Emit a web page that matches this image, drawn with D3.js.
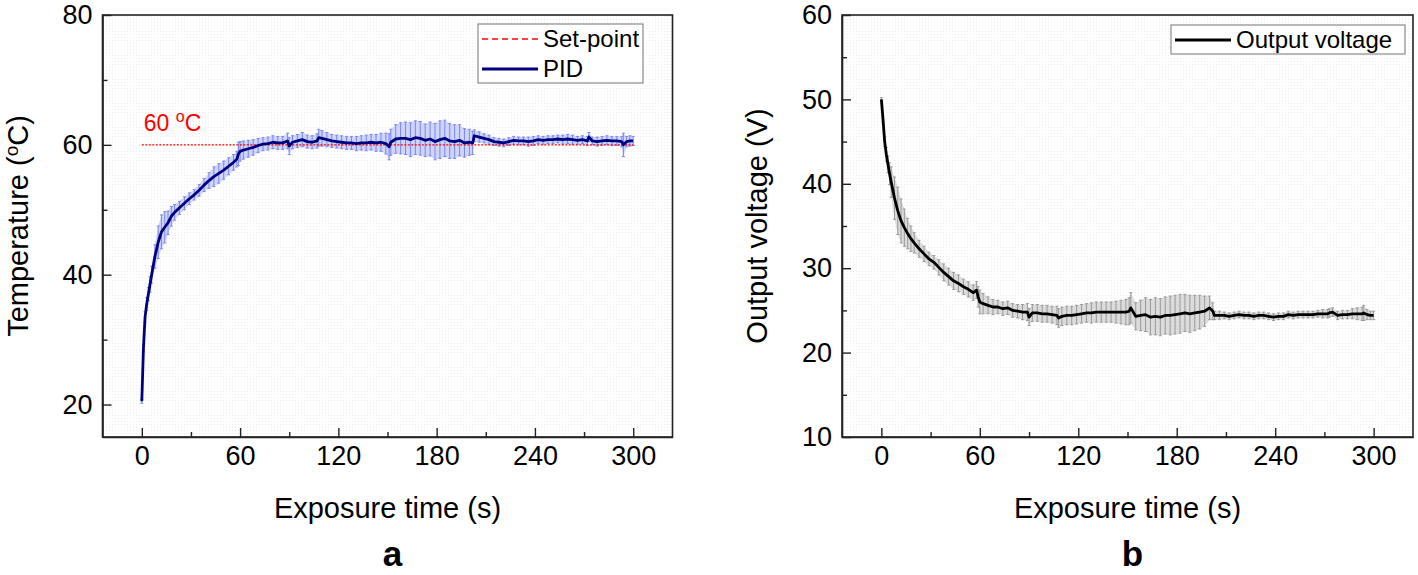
<!DOCTYPE html>
<html>
<head>
<meta charset="utf-8">
<script src="https://cdn.jsdelivr.net/npm/d3@7"></script>
<style>
  html, body { margin: 0; padding: 0; background: #fff; }
  svg { display: block; font-family: "Liberation Sans", Arial, sans-serif; }
</style>
</head>
<body>
<svg id="chart" width="1418" height="575"></svg>
<script>
// ---------------- DATA ----------------
const time = [
  0,1,2,3,4,5,6,8,10,12,
  14,16,18,20,23,26,29,32,35,38,
  41,44,47,50,53,56,58,59,60,62,
  65,68,71,74,77,80,83,86,89,90,
  92,95,98,101,104,107,108,110,113,116,
  119,122,125,128,131,134,137,140,143,146,
  149,151,152,155,158,161,164,167,170,173,
  176,179,182,185,188,191,194,197,200,202,
  203,206,209,212,215,218,221,224,227,230,
  233,236,239,242,245,248,251,254,257,260,
  263,266,269,272,273,275,278,281,284,287,
  290,293,294,296,298,300
];
const temperature = [
  20.5,28.7,33.5,35.5,37,38.5,40,42.8,45,46.6,
  47.3,48,49,49.6,50.3,51,51.7,52.3,53,53.8,
  54.5,55.1,55.6,56.1,56.7,57.3,57.8,58.6,59,59.2,
  59.4,59.6,59.9,60.1,60.2,60.4,60.3,60.3,60.6,59.8,
  60.4,60.6,60.8,60.5,60.4,60.6,61.1,61,60.8,60.6,
  60.5,60.4,60.3,60.3,60.2,60.3,60.3,60.4,60.3,60.4,
  60.2,59.7,60.4,60.9,61,61,60.8,61.1,61,60.7,
  60.9,60.5,60.8,61,60.6,60.5,60.7,60.3,60.4,60.3,
  61.4,61.2,61,60.8,60.5,60.4,60.3,60.5,60.7,60.6,
  60.6,60.5,60.6,60.8,60.7,60.8,60.8,60.9,60.8,60.9,
  60.8,60.7,60.8,60.6,61.2,60.6,60.5,60.6,60.7,60.6,
  60.6,60.5,60.0,60.5,60.6,60.6
];
const temperatureErr = [
  0.3,0.5,0.8,1,1,1.2,1.3,1.8,2.5,2.6,
  2.4,1.8,1.5,1.2,1,1,0.9,0.8,0.9,1,
  1.2,1.5,1.5,1.4,1.3,1.2,1.2,1.8,1.5,1.4,
  1.3,1.2,1.1,1,1,1,1,1,1.2,1.3,
  1,1,1.1,1,1,1.1,1.3,1.2,1.1,1,
  1,1,1,1,1.1,1.1,1.2,1.2,1.3,1.4,
  1.6,2,2,2.2,2.4,2.5,2.6,2.6,2.6,2.5,
  2.6,2.8,2.9,2.8,2.7,2.6,2.4,2.2,2,1.8,
  0.9,0.8,0.7,0.7,0.6,0.6,0.6,0.6,0.6,0.6,
  0.6,0.7,0.7,0.6,0.6,0.6,0.6,0.6,0.7,0.7,
  0.7,0.6,0.6,0.7,0.7,0.6,0.7,0.7,0.7,0.7,
  0.7,0.8,1.8,0.8,0.8,0.7
];
const voltage = [
  50,47.6,45,43.5,42.3,41.2,40.2,38.3,36.8,35.6,
  34.8,34.1,33.5,33,32.3,31.7,31.1,30.7,30.1,29.5,
  29,28.5,28.2,27.8,27.5,27.1,27.4,26.6,26,25.8,
  25.6,25.4,25.4,25.2,25.3,25,24.9,24.8,24.8,24.2,
  24.7,24.7,24.6,24.6,24.5,24.4,24.1,24.3,24.4,24.4,
  24.5,24.6,24.7,24.7,24.8,24.8,24.8,24.8,24.8,24.8,
  24.8,24.9,25.3,24.3,24.4,24.5,24.2,24.3,24.2,24.4,
  24.4,24.5,24.6,24.7,24.6,24.7,24.8,24.9,25.3,24.9,
  24.4,24.4,24.4,24.3,24.4,24.5,24.4,24.4,24.3,24.4,
  24.4,24.3,24.2,24.3,24.3,24.5,24.4,24.5,24.5,24.5,
  24.5,24.6,24.6,24.6,24.7,24.8,24.4,24.5,24.5,24.6,
  24.6,24.6,24.7,24.5,24.4,24.4
];
const voltageErr = [
  0.2,0.4,0.6,0.8,1,1.3,1.8,2.5,2.8,2.6,
  2.2,1.8,1.5,1.2,1,0.9,0.8,0.8,0.9,1,
  1,1,1,0.9,0.9,0.9,1,1.2,1.4,1.2,
  1,0.9,0.8,0.8,0.8,0.8,0.8,0.9,1,1,
  1,1,1,1,1,1.1,1.1,1.1,1.1,1.1,
  1.1,1.1,1.1,1.2,1.2,1.2,1.2,1.2,1.3,1.4,
  1.5,1.6,1.8,1.6,1.8,2,2.1,2.2,2.2,2.2,
  2.3,2.3,2.3,2.2,2.2,2.1,2,1.8,1.4,1,
  0.5,0.5,0.4,0.4,0.4,0.4,0.4,0.4,0.4,0.4,
  0.4,0.4,0.4,0.4,0.4,0.4,0.4,0.4,0.4,0.4,
  0.4,0.4,0.5,0.5,0.5,0.5,0.5,0.5,0.5,0.6,
  0.7,0.8,0.9,0.6,0.5,0.5
];
const setPoint = 60;
const setPointSpan = [0, 300];
const xTicks = [0, 60, 120, 180, 240, 300];
const xMinorTicks = [30, 90, 150, 210, 270];
const yTicksA = [20, 40, 60, 80];
const yMinorTicksA = [30, 50, 70];
const yTicksB = [10, 20, 30, 40, 50, 60];
const yMinorTicksB = [15, 25, 35, 45, 55];

// ---------------- DRAW ----------------
const svg = d3.select("#chart");
const defs = svg.append("defs");
const pat = defs.append("pattern").attr("id", "dots")
  .attr("width", 3).attr("height", 3).attr("patternUnits", "userSpaceOnUse");
pat.append("rect").attr("width", 3).attr("height", 3).attr("fill", "#ffffff");
pat.append("rect").attr("x", 1).attr("y", 1).attr("width", 1).attr("height", 1).attr("fill", "#eeeeee");

function panel(opt) {
  const x = d3.scaleLinear().domain([-24, 324]).range([opt.x0, opt.x1]);
  const y = d3.scaleLinear().domain(opt.yDomain).range([437, 15]);
  const g = svg.append("g");

  g.append("rect").attr("x", opt.x0).attr("y", 15)
    .attr("width", opt.x1 - opt.x0).attr("height", 422)
    .attr("fill", "url(#dots)");

  const data = time.map((t, i) => ({ t, v: opt.values[i], e: opt.errs[i] }));

  // error band (dense error bars look)
  g.append("path").datum(data)
    .attr("d", d3.area().x(d => x(d.t)).y0(d => y(d.v - d.e)).y1(d => y(d.v + d.e)))
    .attr("fill", opt.bandFill).attr("opacity", opt.bandOpacity);

  // error bars
  const eb = g.append("g").attr("stroke", opt.barColor).attr("stroke-width", 1).attr("fill", "none");
  data.forEach(d => {
    eb.append("line").attr("x1", x(d.t)).attr("x2", x(d.t)).attr("y1", y(d.v - d.e)).attr("y2", y(d.v + d.e));
    eb.append("line").attr("x1", x(d.t) - 1.5).attr("x2", x(d.t) + 1.5).attr("y1", y(d.v - d.e)).attr("y2", y(d.v - d.e));
    eb.append("line").attr("x1", x(d.t) - 1.5).attr("x2", x(d.t) + 1.5).attr("y1", y(d.v + d.e)).attr("y2", y(d.v + d.e));
  });

  if (opt.setPoint) {
    g.append("line").attr("x1", x(setPointSpan[0])).attr("x2", x(setPointSpan[1]))
      .attr("y1", y(setPoint)).attr("y2", y(setPoint))
      .attr("stroke", "#ff0000").attr("stroke-width", 1.3).attr("stroke-dasharray", "2,1.5");
    const lbl = g.append("text").attr("x", x(0) + 2).attr("y", y(setPoint) - 14)
      .attr("fill", "#ff0000").style("font-size", "23px");
    lbl.append("tspan").text("60 ");
    lbl.append("tspan").attr("dy", -9).style("font-size", "16px").text("o");
    lbl.append("tspan").attr("dy", 9).text("C");
  }

  g.append("path").datum(data)
    .attr("d", d3.line().x(d => x(d.t)).y(d => y(d.v)))
    .attr("fill", "none").attr("stroke", opt.lineColor).attr("stroke-width", 2.8)
    .attr("stroke-linejoin", "round");

  // frame
  g.append("rect").attr("x", opt.x0).attr("y", 15)
    .attr("width", opt.x1 - opt.x0).attr("height", 422)
    .attr("fill", "none").attr("stroke", "#222").attr("stroke-width", 1.6);

  // axes
  g.append("g").attr("transform", "translate(0,437)")
    .call(d3.axisBottom(x).tickValues(xTicks).tickSizeInner(-9).tickSizeOuter(0).tickPadding(9));
  g.append("g").attr("transform", "translate(0,437)")
    .call(d3.axisBottom(x).tickValues(xMinorTicks).tickSizeInner(-5).tickSizeOuter(0).tickFormat(""))
    .select(".domain").remove();
  g.append("g").attr("transform", `translate(${opt.x0},0)`)
    .call(d3.axisLeft(y).tickValues(opt.yTicks).tickSizeInner(-9).tickSizeOuter(0).tickPadding(10));
  g.append("g").attr("transform", `translate(${opt.x0},0)`)
    .call(d3.axisLeft(y).tickValues(opt.yMinor).tickSizeInner(-5).tickSizeOuter(0).tickFormat(""))
    .select(".domain").remove();
  g.selectAll(".domain").attr("stroke", "#222").attr("stroke-width", 1.6);
  g.selectAll(".tick line").attr("stroke", "#222").attr("stroke-width", 1.4);
  g.selectAll(".tick text").style("font-size", "27px").style("font-family", "'Liberation Sans', Arial, sans-serif").attr("fill", "#000");

  // titles
  const cx = (x(0) + x(300)) / 2;
  g.append("text").attr("x", cx).attr("y", 518).attr("text-anchor", "middle")
    .style("font-size", "29px").text("Exposure time (s)");
  const yt = g.append("text").attr("transform", `translate(${opt.titleX},226) rotate(-90)`)
    .attr("text-anchor", "middle").style("font-size", "29px");
  opt.yTitle(yt);
  g.append("text").attr("x", cx + 5).attr("y", 566).attr("text-anchor", "middle")
    .style("font-size", "35px").style("font-weight", "bold").text(opt.letter);

  // legend
  const L = opt.legend;
  g.append("rect").attr("x", L.x).attr("y", L.y).attr("width", L.w).attr("height", L.h)
    .attr("fill", "#fff").attr("stroke", "#8a8a8a").attr("stroke-width", 1.2);
  L.items.forEach((it, i) => {
    const yy = L.y + 15 + i * 30;
    g.append("line").attr("x1", L.x + 4).attr("x2", L.x + 60).attr("y1", yy).attr("y2", yy)
      .attr("stroke", it.color).attr("stroke-width", it.width).attr("stroke-dasharray", it.dash || null);
    g.append("text").attr("x", L.x + 65).attr("y", yy + 8).style("font-size", "24px").text(it.label);
  });
}

panel({
  x0: 102.5, x1: 672.5, yDomain: [15, 80], yTicks: yTicksA, yMinor: yMinorTicksA,
  values: temperature, errs: temperatureErr,
  lineColor: "#000080", barColor: "#7b86f0", bandFill: "#aab3f6", bandOpacity: 0.55,
  setPoint: true, titleX: 28, letter: "a",
  yTitle: t => {
    t.append("tspan").text("Temperature (");
    t.append("tspan").attr("dy", -10).style("font-size", "19px").text("o");
    t.append("tspan").attr("dy", 10).text("C)");
  },
  legend: { x: 478, y: 24, w: 165, h: 59, items: [
    { label: "Set-point", color: "#ff0000", width: 1.5, dash: "6,4" },
    { label: "PID", color: "#000080", width: 2.8 }
  ]}
});

panel({
  x0: 842, x1: 1413, yDomain: [10, 60], yTicks: yTicksB, yMinor: yMinorTicksB,
  values: voltage, errs: voltageErr,
  lineColor: "#000000", barColor: "#9a9a9a", bandFill: "#c4c4c4", bandOpacity: 0.6,
  setPoint: false, titleX: 767, letter: "b",
  yTitle: t => { t.text("Output voltage (V)"); },
  legend: { x: 1171, y: 25, w: 234, h: 29, items: [
    { label: "Output voltage", color: "#000000", width: 2.8 }
  ]}
});
</script>
</body>
</html>
